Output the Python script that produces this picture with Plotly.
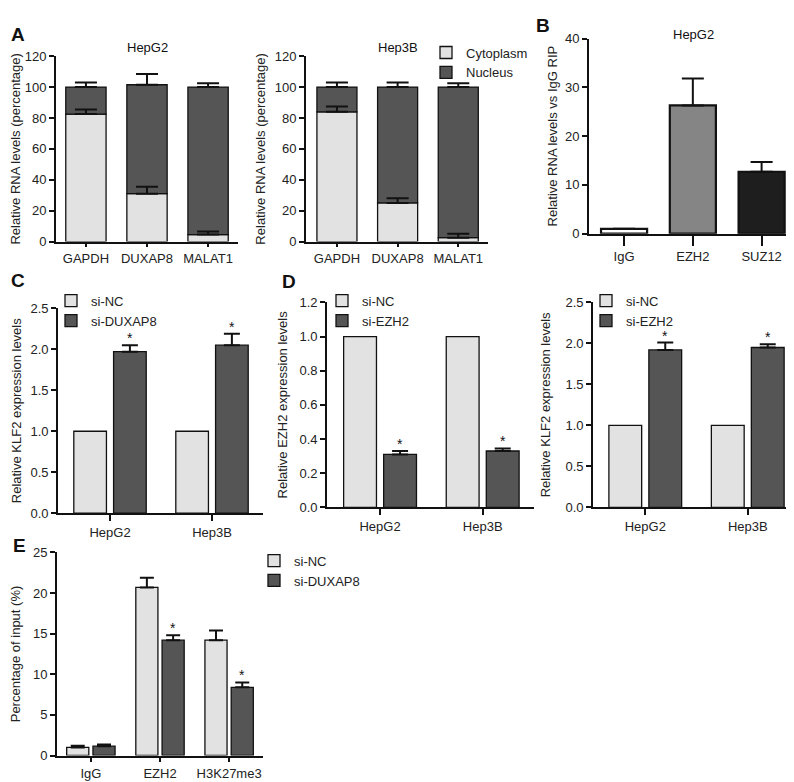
import plotly.graph_objects as go

W, H = 794, 782
FONT = "Liberation Sans, Arial, sans-serif"
LIGHT = "#e2e2e2"
DARK = "#555555"

# ---------------- data ----------------
a_genes = ["GAPDH", "DUXAP8", "MALAT1"]
a_hepg2_cyto = [82.5, 31.0, 4.5]
a_hepg2_cyto_err = [3.0, 4.5, 2.0]
a_hepg2_nuc = [17.5, 70.5, 95.5]
a_hepg2_total_err = [3.0, 7.0, 2.5]
a_hep3b_cyto = [84.0, 25.0, 2.5]
a_hep3b_cyto_err = [3.5, 3.0, 2.5]
a_hep3b_nuc = [16.0, 75.0, 97.5]
a_hep3b_total_err = [3.0, 3.0, 2.5]

b_cats = ["IgG", "EZH2", "SUZ12"]
b_vals = [1.0, 26.3, 12.7]
b_err = [0.0, 5.5, 2.0]
b_colors = ["#ffffff", "#858585", "#1e1e1e"]

cells = ["HepG2", "Hep3B"]
c_sinc = [1.0, 1.0]
c_siduxap8 = [1.97, 2.05]
c_siduxap8_err = [0.08, 0.14]

d_ezh2_sinc = [1.0, 1.0]
d_ezh2_siezh2 = [0.31, 0.33]
d_ezh2_siezh2_err = [0.02, 0.015]
d_klf2_sinc = [1.0, 1.0]
d_klf2_siezh2 = [1.92, 1.95]
d_klf2_siezh2_err = [0.09, 0.04]

e_cats = ["IgG", "EZH2", "H3K27me3"]
e_sinc = [1.0, 20.7, 14.2]
e_sinc_err = [0.2, 1.2, 1.2]
e_siduxap8 = [1.15, 14.2, 8.4]
e_siduxap8_err = [0.2, 0.6, 0.6]

# ---------------- helpers ----------------
def xd(p0, p1):
    return [p0 / W, p1 / W]

def yd(top, bottom):
    return [1 - bottom / H, 1 - top / H]

LINE = dict(color="#111", width=1.3)

def err(arr, w=7):
    return dict(type="data", symmetric=False, array=arr, arrayminus=[0] * len(arr),
                color="#111", thickness=2, width=w, visible=True)

fig = go.Figure()

# ---------------- panel A ----------------
for (xa, ya, cyto, cerr, nuc, terr, show) in [
    ("x", "y", a_hepg2_cyto, a_hepg2_cyto_err, a_hepg2_nuc, a_hepg2_total_err, False),
    ("x2", "y2", a_hep3b_cyto, a_hep3b_cyto_err, a_hep3b_nuc, a_hep3b_total_err, True),
]:
    fig.add_trace(go.Bar(x=a_genes, y=cyto, xaxis=xa, yaxis=ya, width=0.66,
                         marker=dict(color=LIGHT, line=LINE), name="Cytoplasm",
                         showlegend=show, legend="legend"))
    fig.add_trace(go.Bar(x=a_genes, y=nuc, base=cyto, xaxis=xa, yaxis=ya, width=0.66,
                         marker=dict(color=DARK, line=LINE), name="Nucleus",
                         showlegend=show, legend="legend"))
    totals = [c + n for c, n in zip(cyto, nuc)]
    fig.add_trace(go.Scatter(x=a_genes, y=cyto, xaxis=xa, yaxis=ya, mode="markers",
                             marker=dict(size=1, opacity=0), error_y=err(cerr, 11),
                             showlegend=False, hoverinfo="skip"))
    fig.add_trace(go.Scatter(x=a_genes, y=totals, xaxis=xa, yaxis=ya, mode="markers",
                             marker=dict(size=1, opacity=0), error_y=err(terr, 11),
                             showlegend=False, hoverinfo="skip"))

# ---------------- panel B ----------------
fig.add_trace(go.Bar(x=b_cats, y=b_vals, xaxis="x3", yaxis="y3", width=0.67,
                     marker=dict(color=b_colors, line=dict(color="#111", width=2.2)),
                     error_y=err(b_err, 11), showlegend=False))

# ---------------- grouped panels ----------------
def grouped(xa, ya, cats, v1, v2, e2, n2, leg, e1=None, off=(-0.355, 0.035), w=0.32, ew=8):
    fig.add_trace(go.Bar(x=cats, y=v1, xaxis=xa, yaxis=ya, offset=off[0], width=w,
                         marker=dict(color=LIGHT, line=LINE), name="si-NC",
                         error_y=err(e1, ew) if e1 else None, legend=leg))
    fig.add_trace(go.Bar(x=cats, y=v2, xaxis=xa, yaxis=ya, offset=off[1], width=w,
                         marker=dict(color=DARK, line=LINE), name=n2,
                         error_y=err(e2, ew), legend=leg))

grouped("x4", "y4", cells, c_sinc, c_siduxap8, c_siduxap8_err, "si-DUXAP8", "legend2")
grouped("x5", "y5", cells, d_ezh2_sinc, d_ezh2_siezh2, d_ezh2_siezh2_err, "si-EZH2", "legend3")
grouped("x6", "y6", cells, d_klf2_sinc, d_klf2_siezh2, d_klf2_siezh2_err, "si-EZH2", "legend4")
grouped("x7", "y7", e_cats, e_sinc, e_siduxap8, e_siduxap8_err, "si-DUXAP8", "legend5",
        e1=e_sinc_err, off=(-0.35, 0.03), w=0.32, ew=7)

# ---------------- asterisks ----------------
annotations = []
def star(xref, yref, xs, ys):
    for x, y in zip(xs, ys):
        annotations.append(dict(x=x, y=y, xref=xref, yref=yref, text="*", showarrow=False,
                                yanchor="bottom", yshift=-3,
                                font=dict(family=FONT, size=14, color="#111")))

star("x4", "y4", [0.195, 1.195], [v + e for v, e in zip(c_siduxap8, c_siduxap8_err)])
star("x5", "y5", [0.195, 1.195], [v + e for v, e in zip(d_ezh2_siezh2, d_ezh2_siezh2_err)])
star("x6", "y6", [0.195, 1.195], [v + e for v, e in zip(d_klf2_siezh2, d_klf2_siezh2_err)])
star("x7", "y7", [1.19, 2.19], [v + e for v, e in zip(e_siduxap8[1:], e_siduxap8_err[1:])])

def ptext(txt, x, y, size=13, bold=False):
    annotations.append(dict(x=x / W, y=1 - y / H, xref="paper", yref="paper",
                            text=f"<b>{txt}</b>" if bold else txt, showarrow=False,
                            xanchor="center", yanchor="middle",
                            font=dict(family=FONT, size=size, color="#111")))

ptext("A", 10, 20, 19, True)
ptext("B", 535, 11, 19, True)
ptext("C", 10, 271, 19, True)
ptext("D", 281, 272, 19, True)
ptext("E", 11, 541, 19, True)
ptext("HepG2", 139, 33)
ptext("Hep3B", 390, 33)
ptext("HepG2", 685, 20)

# ---------------- axes ----------------
TF = dict(family=FONT, size=13, color="#222")

def xaxis(dom, rng, anchor, ticklen=6):
    return dict(domain=xd(*dom), range=rng, anchor=anchor, showline=True, linecolor="#111",
                linewidth=1.8, ticks="outside", ticklen=ticklen, tickwidth=1.8, tickcolor="#111",
                showgrid=False, zeroline=False, tickfont=TF, fixedrange=True, type="category")

def yaxis(dom, rng, step, anchor, title, standoff=6, fmt=None):
    n = int(round(rng[1] / step))
    vals = [round(i * step, 3) for i in range(n + 1)]
    d = dict(domain=yd(*dom), range=rng, anchor=anchor, showline=True, linecolor="#111",
             linewidth=1.8, ticks="outside", ticklen=5, tickwidth=1.8, tickcolor="#111",
             showgrid=False, zeroline=False, tickfont=TF, fixedrange=True, tickvals=vals,
             title=dict(text=title, standoff=standoff, font=dict(family=FONT, size=13, color="#222")))
    if fmt:
        d["tickformat"] = fmt
    return d

layout = dict(
    width=W, height=H, margin=dict(l=0, r=0, t=0, b=0),
    paper_bgcolor="white", plot_bgcolor="white", barmode="overlay",
    font=dict(family=FONT, color="#222"),
    xaxis=xaxis((48, 230), [-0.49, 2.49], "y", 4),
    yaxis=yaxis((42, 231), [0, 120], 20, "x", "Relative RNA levels (percentage)", 5),
    xaxis2=xaxis((298, 480), [-0.51, 2.49], "y2", 4),
    yaxis2=yaxis((42, 231), [0, 120], 20, "x2", "Relative RNA levels (percentage)", 6),
    xaxis3=xaxis((581, 788), [-0.51, 2.5], "y3", 10),
    yaxis3=yaxis((24, 223), [0, 40], 10, "x3", "Relative RNA levels vs IgG RIP", 4),
    xaxis4=xaxis((50, 255), [-0.51, 1.5], "y4"),
    yaxis4=yaxis((299, 508), [0, 2.5], 0.5, "x4", "Relative KLF2 expression levels", 6, ".1f"),
    xaxis5=xaxis((319, 526), [-0.517, 1.5], "y5"),
    yaxis5=yaxis((293, 502), [0, 1.2], 0.2, "x5", "Relative EZH2 expression levels", 9, ".1f"),
    xaxis6=xaxis((585, 791), [-0.51, 1.5], "y6"),
    yaxis6=yaxis((293, 502), [0, 2.5], 0.5, "x6", "Relative KLF2 expression levels", 12, ".1f"),
    xaxis7=xaxis((49, 255), [-0.49, 2.49], "y7", 5),
    yaxis7=yaxis((548, 755), [0, 25], 5, "x7", "Percentage of input (%)", 10),
    annotations=annotations,
)

def leg(x, y):
    return dict(x=x / W, y=1 - y / H, xanchor="left", yanchor="top", bgcolor="rgba(0,0,0,0)",
                font=dict(family=FONT, size=13, color="#222"), itemwidth=30,
                tracegroupgap=0, traceorder="normal")

layout["legend"] = leg(418, 23)
layout["legend2"] = leg(43, 276)
layout["legend3"] = leg(314, 276)
layout["legend4"] = leg(578, 276)
layout["legend5"] = leg(246, 541)

fig.update_layout(**layout)
fig.write_html("out.html")
